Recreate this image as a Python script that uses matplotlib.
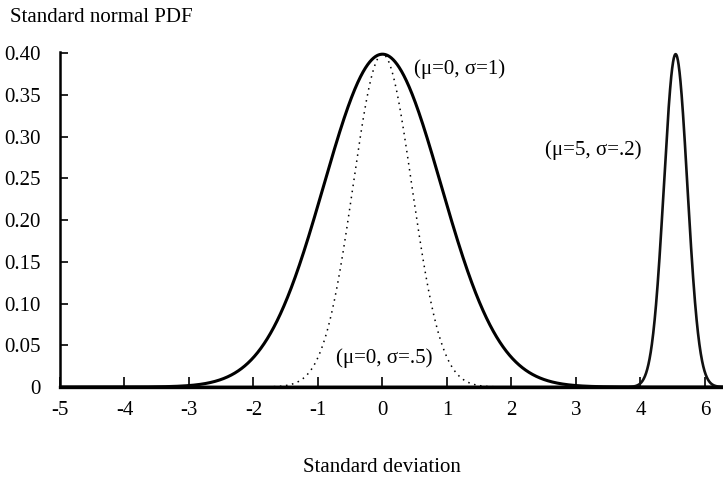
import numpy as np
import matplotlib
matplotlib.use("Agg")
import matplotlib.pyplot as plt

# ---- data ----
curve_mu = [0.0, 0.0, 5.0]
curve_sigma = [1.0, 0.5, 0.2]
curve_labels = ["(\u03bc=0, \u03c3=1)", "(\u03bc=0, \u03c3=.5)", "(\u03bc=5, \u03c3=.2)"]
peak_height = 0.3989
x_tick_labels = ["-5", "-4", "-3", "-2", "-1", "0", "1", "2", "3", "4", "6"]
y_tick_values = [0, 0.05, 0.10, 0.15, 0.20, 0.25, 0.30, 0.35, 0.40]
y_tick_labels = ["0", "0.05", "0.10", "0.15", "0.20", "0.25", "0.30", "0.35", "0.40"]

plt.rcParams['font.family'] = ['Liberation Serif', 'DejaVu Serif']

TICK = 1.10  # data units per labelled tick step

fig = plt.figure(figsize=(7.23, 4.8), dpi=100)
ax = fig.add_axes([60/723, 1 - 387/480, 1 - 60/723, (387 - 52)/480])

x = np.linspace(-5.6, 6.2, 3000)
styles = [dict(color='black', lw=2.2, ls='-'),
          dict(color='black', lw=1.1, ls=(0, (1, 3))),
          dict(color='#111111', lw=1.9, ls='-')]
for mu, s, st in zip(curve_mu, curve_sigma, styles):
    y = peak_height * np.exp(-(x - mu) ** 2 / (2 * s ** 2))
    ax.plot(x, y, zorder=3, **st)

ax.set_xlim(-5 * TICK, 5.28 * TICK)
ax.set_ylim(0, 0.4015)

ax.set_xticks(TICK * np.arange(-5, -5 + len(x_tick_labels)))
ax.set_xticklabels(x_tick_labels)
ax.set_yticks(y_tick_values)
ax.set_yticklabels(y_tick_labels)

for sp in ['top', 'right']:
    ax.spines[sp].set_visible(False)
ax.spines['bottom'].set_linewidth(2.4)
ax.spines['left'].set_linewidth(1.8)
ax.spines['bottom'].set_zorder(4)

ax.tick_params(axis='x', direction='in', length=7, width=1.2, pad=10, labelsize=15)
ax.tick_params(axis='y', direction='in', length=6, width=1.2, pad=14, labelsize=15)

label_pos = [(0.49, 0.381), (-0.72, 0.035), (2.52, 0.284)]
for (tx, ty), lab in zip(label_pos, curve_labels):
    ax.text(tx * TICK, ty, lab, fontsize=15, ha='left', va='center')

fig.text(10/723, 1 - 17/480, "Standard normal PDF", fontsize=15, ha='left', va='center')
fig.text(382/723, 1 - 468/480, "Standard deviation", fontsize=15, ha='center', va='center')

fig.savefig("out.png", dpi=100)
